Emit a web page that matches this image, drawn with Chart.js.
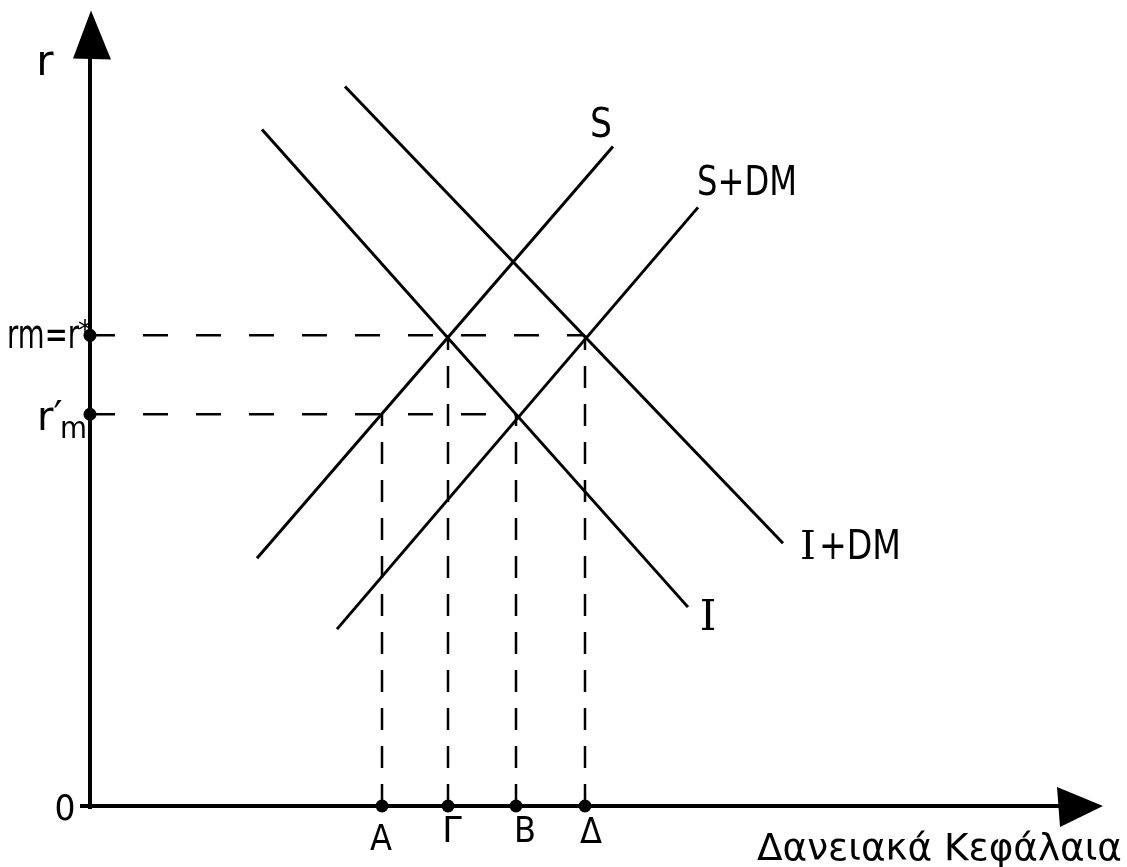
<!DOCTYPE html>
<html>
<head>
<meta charset="utf-8">
<script src="https://cdn.jsdelivr.net/npm/chart.js@4.4.1/dist/chart.umd.min.js"></script>
<style>
    html, body { margin: 0; background: #fff; }
    #wrap { width: 1127px; height: 867px; }
</style>
</head>
<body>
<div id="wrap"><canvas id="myChart"></canvas></div>
<script>
// curves: S, S+DM, I, I+DM (start and end of each straight line)
const curveNames = ['S', 'S+DM', 'I', 'I+DM'];
const curveX0 = [1.67, 2.47, 1.72, 2.55];
const curveY0 = [2.48, 1.77, 6.77, 7.20];
const curveX1 = [5.23, 6.08, 5.98, 6.93];
const curveY1 = [6.60, 5.99, 1.99, 2.63];

// interest rate levels on the r axis: rm=r*, r'm
const rLevels = [4.71, 3.92];
const rEnds = [4.95, 4.26];

// quantities on the horizontal axis: A, Γ, B, Δ
const qNames = ['A', 'Γ', 'B', 'Δ'];
const qPoints = [2.92, 3.58, 4.26, 4.95];
const qLevels = [3.92, 4.71, 3.92, 4.71];

// axes: start, arrow base, arrow tip
const xAxisEnds = [-0.1, 9.7, 10.13];
const yAxisEnds = [-0.03, 7.48, 7.96];

const SANS = "'DejaVu Sans', sans-serif";
const SERIF = "'DejaVu Serif', serif";

const texts = [
    { text: 'r', x: -0.45, y: 7.31, size: 42, align: 'center' },
    { text: '0', x: -0.25, y: -0.14, size: 36, align: 'center', maxWidth: 21 },
    { text: 'rm=r', x: -0.11, y: 4.58, size: 40, align: 'right', maxWidth: 72 },
    { text: '*', x: -0.12, y: 4.66, size: 28, align: 'left' },
    { text: 'r′', x: -0.53, y: 3.76, size: 40, align: 'left' },
    { text: 'm', x: -0.30, y: 3.68, size: 30, align: 'left', maxWidth: 27 },
    { text: 'S', x: 5.11, y: 6.69, size: 40, align: 'center', maxWidth: 22 },
    { text: 'S+DM', x: 6.07, y: 6.11, size: 40, align: 'left', maxWidth: 100 },
    { text: 'I', x: 7.10, y: 2.47, size: 40, align: 'left', font: SERIF, maxWidth: 22 },
    { text: '+DM', x: 7.29, y: 2.47, size: 40, align: 'left', maxWidth: 82 },
    { text: 'I', x: 6.18, y: 1.76, size: 42, align: 'center', font: SERIF, maxWidth: 24 },
    { text: 'Δανειακά Κεφάλαια', x: 6.67, y: -0.54, size: 38, align: 'left', maxWidth: 365 }
];
const qLabelY = [-0.44, -0.36, -0.36, -0.37];
const qLabelX = [2.91, 3.62, 4.35, 5.01];

const curveSets = curveNames.map((name, i) => ({
    label: name,
    data: [{ x: curveX0[i], y: curveY0[i] }, { x: curveX1[i], y: curveY1[i] }],
    showLine: true,
    borderColor: '#000',
    borderWidth: 3,
    pointRadius: 0,
    clip: false
}));

const rSets = rLevels.map((r, i) => ({
    data: [{ x: 0, y: r }, { x: rEnds[i], y: r }],
    showLine: true,
    borderColor: '#000',
    borderWidth: 2.5,
    borderDash: [25, 28],
    pointRadius: 0,
    clip: false
}));

const qSets = qPoints.map((q, i) => ({
    data: [{ x: q, y: 0 }, { x: q, y: qLevels[i] }],
    showLine: true,
    borderColor: '#000',
    borderWidth: 2.5,
    borderDash: [22, 16],
    pointRadius: 0,
    clip: false
}));

const dotSet = {
    data: qPoints.map(q => ({ x: q, y: 0 })).concat(rLevels.map(r => ({ x: 0, y: r }))),
    showLine: false,
    pointRadius: 6.5,
    pointBorderWidth: 0,
    backgroundColor: '#000',
    clip: false
};

const axesPlugin = {
    id: 'axes',
    beforeDatasetsDraw(chart) {
        const c = chart.ctx;
        const xs = chart.scales.x, ys = chart.scales.y;
        const x0 = xs.getPixelForValue(0), y0 = ys.getPixelForValue(0);
        c.save();
        c.strokeStyle = '#000';
        c.fillStyle = '#000';
        c.lineWidth = 4;
        // horizontal axis
        c.beginPath();
        c.moveTo(xs.getPixelForValue(xAxisEnds[0]), y0);
        c.lineTo(xs.getPixelForValue(xAxisEnds[1]), y0);
        c.stroke();
        c.beginPath();
        c.moveTo(xs.getPixelForValue(xAxisEnds[1]) - 3, y0 - 19);
        c.lineTo(xs.getPixelForValue(xAxisEnds[2]), y0);
        c.lineTo(xs.getPixelForValue(xAxisEnds[1]), y0 + 21);
        c.closePath();
        c.fill();
        // vertical axis
        c.beginPath();
        c.moveTo(x0, ys.getPixelForValue(yAxisEnds[0]));
        c.lineTo(x0, ys.getPixelForValue(yAxisEnds[1]));
        c.stroke();
        c.beginPath();
        c.moveTo(x0 - 17, ys.getPixelForValue(yAxisEnds[1]));
        c.lineTo(x0 + 1, ys.getPixelForValue(yAxisEnds[2]));
        c.lineTo(x0 + 21, ys.getPixelForValue(yAxisEnds[1]) + 1);
        c.closePath();
        c.fill();
        c.restore();
    },
    afterDatasetsDraw(chart) {
        const c = chart.ctx;
        const xs = chart.scales.x, ys = chart.scales.y;
        c.save();
        c.fillStyle = '#000';
        c.textBaseline = 'alphabetic';
        const all = texts.concat(qNames.map((n, i) => (
            { text: n, x: qLabelX[i], y: qLabelY[i], size: 35, align: 'center', maxWidth: 22 })));
        all.forEach(t => {
            c.font = t.size + 'px ' + (t.font || SANS);
            c.textAlign = t.align;
            const px = xs.getPixelForValue(t.x), py = ys.getPixelForValue(t.y);
            if (t.maxWidth) c.fillText(t.text, px, py, t.maxWidth);
            else c.fillText(t.text, px, py);
        });
        c.restore();
    }
};

const ctx = document.getElementById('myChart').getContext('2d');
const myChart = new Chart(ctx, {
    type: 'scatter',
    data: {
        datasets: curveSets.concat(rSets, qSets, [dotSet])
    },
    options: {
        responsive: true,
        maintainAspectRatio: false,
        animation: false,
        layout: {
            padding: { left: 90, right: 37, top: 6, bottom: 61 }
        },
        scales: {
            x: { type: 'linear', min: 0, max: 10, display: false },
            y: { type: 'linear', min: 0, max: 8, display: false }
        },
        plugins: {
            legend: { display: false },
            tooltip: { enabled: false }
        }
    },
    plugins: [axesPlugin]
});
</script>
</body>
</html>
